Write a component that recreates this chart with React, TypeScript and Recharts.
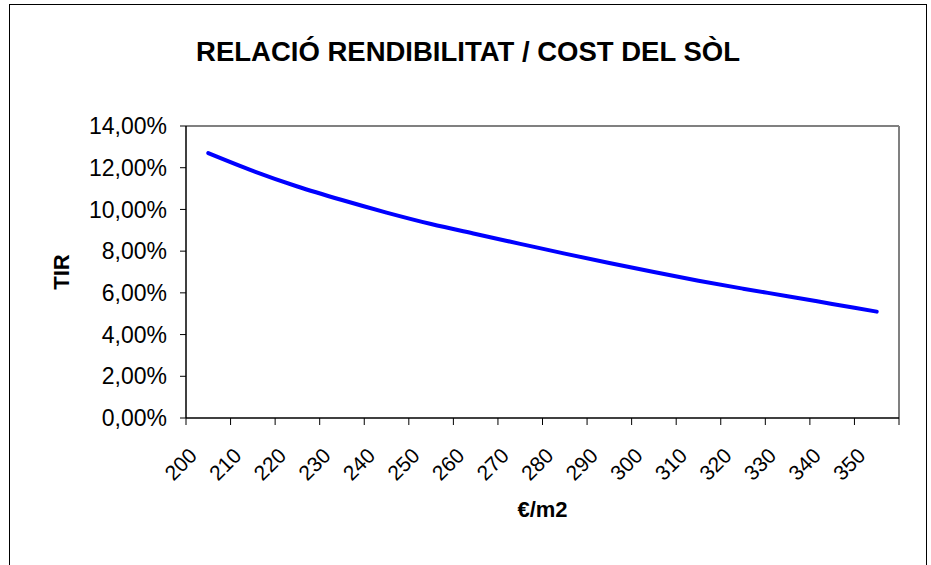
import { LineChart, Line, XAxis, YAxis, ReferenceLine, Label } from "recharts"

const costs = [200, 210, 220, 230, 240, 250, 260, 270, 280, 290, 300, 310, 320, 330, 340, 350]
const tir = [12.7, 11.85, 11.1, 10.45, 9.85, 9.3, 8.82, 8.35, 7.88, 7.43, 7.0, 6.58, 6.2, 5.84, 5.47, 5.1]
const yTicks = [0, 2, 4, 6, 8, 10, 12, 14]

// category i sits in the middle of slot [i, i+1]
const data = costs.map((c, i) => ({ pos: i + 0.5, cost: c, tir: tir[i] }))
const xTicks = Array.from({ length: costs.length * 2 + 1 }, (_, i) => i / 2)

const font = "'Liberation Sans', Arial, sans-serif"

function CostTick(props: any) {
  const { x, y, payload } = props
  const v = payload.value as number
  if (Number.isInteger(v)) {
    return <line x1={x} y1={y} x2={x} y2={y + 7} stroke="#000" strokeWidth={1} />
  }
  const label = costs[Math.floor(v)]
  const tx = x - 10
  const ty = y + 39
  return (
    <text x={tx} y={ty} textAnchor="end" transform={`rotate(-45 ${tx} ${ty})`}
      fontSize={21} fontFamily={font} fill="#000">
      {label}
    </text>
  )
}

export default function App() {
  return (
    <div style={{ position: "absolute", left: 0, top: 0, width: 931, height: 565, overflow: "hidden", background: "#fff", fontFamily: font }}>
      <div style={{ position: "absolute", left: 9, top: 4, width: 918, height: 600, border: "1px solid #000", boxSizing: "border-box" }} />
      <div style={{ position: "absolute", left: 9, top: 38, width: 918, textAlign: "center", fontSize: 27.5, lineHeight: "27px", fontWeight: 700, color: "#000" }}>
        RELACIÓ RENDIBILITAT / COST DEL SÒL
      </div>
      <div style={{ position: "absolute", left: 0, top: 0 }}>
        <LineChart width={931} height={565} data={data} margin={{ top: 126, right: 32, bottom: 0, left: 0 }}>
          <XAxis dataKey="pos" type="number" domain={[0, costs.length]} ticks={xTicks} interval={0}
            tickLine={false} tickSize={0} tickMargin={0} axisLine={{ stroke: "#000", strokeWidth: 1.5 }}
            tick={<CostTick />} height={147}>
            <Label value="€/m2" position="insideBottom" offset={48}
              style={{ fontSize: 22, fontWeight: 700, fill: "#000", fontFamily: font }} />
          </XAxis>
          <YAxis type="number" domain={[0, 14]} ticks={yTicks} interval={0} width={186}
            tickSize={6} tickMargin={13} axisLine={{ stroke: "#000", strokeWidth: 1.5 }} tickLine={{ stroke: "#000" }}
            tick={{ fill: "#000", fontSize: 23, fontFamily: font }}
            tickFormatter={(v: number) => `${v.toFixed(2).replace(".", ",")}%`}>
            <Label value="TIR" angle={-90} position="insideLeft" offset={61}
              style={{ fontSize: 22, fontWeight: 700, fill: "#000", fontFamily: font, textAnchor: "middle" }} />
          </YAxis>
          <ReferenceLine y={14} stroke="#808080" strokeWidth={2} />
          <ReferenceLine x={costs.length} stroke="#808080" strokeWidth={2} />
          <Line type="monotone" dataKey="tir" stroke="#0000FF" strokeWidth={4} dot={false}
            strokeLinecap="round" isAnimationActive={false} />
        </LineChart>
      </div>
    </div>
  )
}
